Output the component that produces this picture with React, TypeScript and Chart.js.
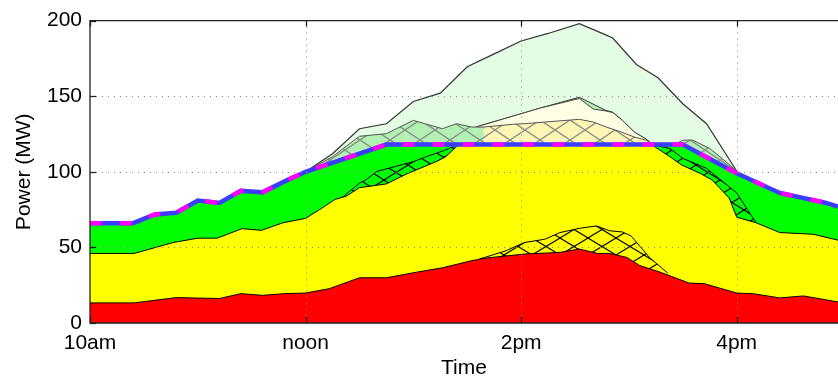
import React, { useEffect, useRef } from 'react';
import { Chart, registerables } from 'chart.js';
Chart.register(...registerables);

// ---- axis ticks ----
const xTickValues = [10, 12, 14, 16];
const xTickLabels = ['10am', 'noon', '2pm', '4pm'];
const yTickValues = [0, 50, 100, 150, 200];

// ---- series (time in hours, value in MW) ----
// uncurtailed total (top, pale green)
const topTime = [12.0, 12.25, 12.5, 12.75, 13.0, 13.25, 13.5, 13.75, 14.0, 14.25, 14.54, 14.78, 14.85, 15.07, 15.27, 15.5, 15.72, 16.0];
const topValue = [100, 112, 128.5, 131.8, 146.5, 152, 169.5, 178, 186.5, 191.5, 198, 190.7, 188.5, 171, 162.2, 145, 131.8, 100.5];
// light-green sliver upper edge
const sliverTime = [13.58, 14.0, 14.17, 14.54, 14.78, 14.85, 14.94, 15.05, 15.16, 15.22];
const sliverValue = [129.6, 138.4, 142, 149.3, 140.8, 139.4, 134, 126.3, 121.6, 118];
// pale-yellow curtailed area upper edge
const paleYellowTime = [13.58, 14.0, 14.17, 14.54, 14.67, 14.78, 14.85, 14.94, 15.05, 15.16, 15.22];
const paleYellowValue = [129.6, 138.4, 142, 148.5, 141.5, 140.3, 139.2, 134, 126.3, 121.6, 118];
// hatched light-green curtailed area (left and right)
const hatchGreenLTime = [12.0, 12.25, 12.5, 12.75, 13.0, 13.27, 13.4, 13.54, 13.65, 13.72];
const hatchGreenLValue = [100, 110, 123.5, 125.2, 134, 128.5, 131.8, 129.6, 129.6, 118];
const hatchGreenRTime = [15.42, 15.5, 15.59, 15.75, 15.9, 16.0];
const hatchGreenRValue = [118, 120.9, 121, 115.4, 106.7, 100.5];
// hatched pale-yellow curtailed area
const hatchYellowTime = [13.65, 13.92, 14.03, 14.22, 14.54, 14.67, 14.79, 14.93, 15.05, 15.16, 15.22];
const hatchYellowValue = [129.6, 131.4, 131.8, 132.9, 134.7, 132.9, 129.6, 126.3, 123, 120.9, 118];
// total delivered (capped) – blue/magenta line, top of green
const capTime = [10.0, 10.4, 10.6, 10.8, 11.0, 11.2, 11.4, 11.6, 11.8, 12.0, 12.75, 15.5, 16.0, 16.4, 16.83, 16.94];
const capValue = [66, 66, 71.8, 72.9, 81, 79.4, 87.5, 86.4, 93.5, 100, 118, 118, 99, 86, 79.4, 77];
// yellow potential (hatched over green)
const yellowPotLTime = [12.34, 12.5, 12.56, 12.66, 12.77, 13.0, 13.12, 13.27, 13.37, 13.42];
const yellowPotLValue = [83, 92.5, 94.7, 100.2, 102.3, 106.7, 110, 113.7, 116.5, 118];
const yellowPotRTime = [15.21, 15.38, 15.5, 15.72, 15.87, 16.0, 16.1, 16.18];
const yellowPotRValue = [118, 115.4, 108.9, 102.3, 93.6, 86, 75, 66.3];
// yellow top
const yellowTime = [10.0, 10.41, 10.77, 11.0, 11.18, 11.41, 11.59, 11.79, 12.0, 12.13, 12.27, 12.38, 12.5, 12.75, 12.95, 13.1, 13.22, 13.3, 13.42, 15.21, 15.38, 15.49, 15.66, 15.77, 15.93, 16.0, 16.18, 16.4, 16.71, 16.94];
const yellowValue = [46, 46, 53.2, 56.1, 56.1, 62.4, 61.3, 66.3, 69.2, 75, 81.6, 84, 89.5, 92, 99, 103.4, 107, 110, 118, 118, 110, 104.5, 99, 94.7, 82.7, 70, 66.3, 59.8, 58.7, 54.8];
// red potential (hatched over yellow)
const redPotTime = [13.61, 13.86, 14.03, 14.22, 14.36, 14.54, 14.7, 14.82, 14.94, 15.02, 15.19, 15.36];
const redPotValue = [42.2, 47.8, 53.2, 55.4, 59.8, 62.6, 64.2, 61, 60.2, 57.6, 43.4, 33];
// red top
const redTime = [10.0, 10.41, 10.8, 11.0, 11.2, 11.4, 11.6, 11.8, 12.0, 12.22, 12.5, 12.75, 13.03, 13.27, 13.54, 13.68, 14.03, 14.36, 14.54, 14.71, 14.82, 14.98, 15.1, 15.29, 15.56, 15.7, 16.0, 16.15, 16.4, 16.62, 16.94];
const redValue = [13.3, 13.3, 16.8, 16.5, 16.2, 19.4, 18.3, 19.4, 19.8, 22.7, 29.9, 29.9, 33.6, 36.5, 41.2, 43, 45.6, 46.7, 48.9, 46, 46, 43.4, 38, 33.6, 26.4, 26, 19.8, 19.4, 16.6, 17.9, 13.9];

const pts = (t: number[], v: number[]) => t.map((x, i) => ({ x, y: v[i] }));

function hatch(bg: string, line: string, w: number, h: number, lw: number) {
  const c = document.createElement('canvas');
  c.width = w;
  c.height = h;
  const g = c.getContext('2d')!;
  g.fillStyle = bg;
  g.fillRect(0, 0, w, h);
  g.strokeStyle = line;
  g.lineWidth = lw;
  for (const dx of [-w, 0, w]) {
    g.beginPath();
    g.moveTo(dx, 0);
    g.lineTo(dx + w, h);
    g.moveTo(dx + w, 0);
    g.lineTo(dx, h);
    g.stroke();
  }
  const ctx = document.createElement('canvas').getContext('2d')!;
  return ctx.createPattern(c, 'repeat')!;
}

const FONT = { family: '"Liberation Sans", Arial, Helvetica, sans-serif', size: 21 };

const axesPlugin = {
  id: 'matlabAxes',
  afterDatasetsDraw(chart: any) {
    const { ctx, chartArea: a, scales } = chart;
    const xs = scales.x;
    const ys = scales.y;
    ctx.save();
    ctx.lineWidth = 1;
    ctx.strokeStyle = '#888';
    ctx.setLineDash([1, 5]);
    yTickValues.filter((v) => v > 0 && v < 200).forEach((v) => {
      const y = Math.round(ys.getPixelForValue(v)) + 0.5;
      ctx.beginPath();
      ctx.moveTo(a.left, y);
      ctx.lineTo(a.right, y);
      ctx.stroke();
    });
    xTickValues.filter((v) => v > 10).forEach((v) => {
      const x = Math.round(xs.getPixelForValue(v)) + 0.5;
      ctx.beginPath();
      ctx.moveTo(x, a.top);
      ctx.lineTo(x, a.bottom);
      ctx.stroke();
    });
    ctx.setLineDash([]);
    ctx.strokeStyle = '#222';
    ctx.lineWidth = 1.3;
    ctx.beginPath();
    ctx.moveTo(a.right, a.top);
    ctx.lineTo(a.left, a.top);
    ctx.lineTo(a.left, a.bottom);
    ctx.lineTo(a.right, a.bottom);
    ctx.stroke();
    const tl = 6;
    xTickValues.forEach((v) => {
      const x = Math.round(xs.getPixelForValue(v)) + 0.5;
      ctx.beginPath();
      ctx.moveTo(x, a.bottom);
      ctx.lineTo(x, a.bottom - tl);
      ctx.moveTo(x, a.top);
      ctx.lineTo(x, a.top + tl);
      ctx.stroke();
    });
    yTickValues.forEach((v) => {
      const y = Math.round(ys.getPixelForValue(v)) + 0.5;
      ctx.beginPath();
      ctx.moveTo(a.left, y);
      ctx.lineTo(a.left + tl, y);
      ctx.stroke();
    });
    ctx.restore();
  },
};

export default function App() {
  const ref = useRef<HTMLCanvasElement>(null);
  useEffect(() => {
    document.body.style.margin = '0';
    const GREEN = '#00ff00';
    const YELLOW = '#ffff00';
    const RED = '#ff0000';
    const LIGHTGREEN = '#b2f1b2';
    const PALEGREEN = '#e4fbe4';
    const PALEYELLOW = '#fffde2';
    const HATCHYELLOW = '#fdf6b4';
    const layers: any[] = [
      { data: pts(topTime, topValue), backgroundColor: PALEGREEN, borderColor: '#333', borderWidth: 1.2 },
      { data: pts(sliverTime, sliverValue), backgroundColor: LIGHTGREEN, borderColor: '#333', borderWidth: 1 },
      { data: pts(paleYellowTime, paleYellowValue), backgroundColor: PALEYELLOW, borderColor: '#444', borderWidth: 1 },
      { data: pts(hatchGreenLTime, hatchGreenLValue), backgroundColor: hatch(LIGHTGREEN, '#888', 30, 20, 1.3), borderColor: '#555', borderWidth: 1 },
      { data: pts(hatchGreenRTime, hatchGreenRValue), backgroundColor: hatch(LIGHTGREEN, '#888', 30, 20, 1.3), borderColor: '#555', borderWidth: 1 },
      { data: pts(hatchYellowTime, hatchYellowValue), backgroundColor: hatch(HATCHYELLOW, '#888', 30, 20, 1.3), borderColor: '#555', borderWidth: 1 },
      { data: pts(capTime, capValue), backgroundColor: GREEN, borderColor: GREEN, borderWidth: 0 },
      { data: pts(yellowPotLTime, yellowPotLValue), backgroundColor: hatch(GREEN, '#000', 24, 15, 1.1), borderColor: '#000', borderWidth: 1 },
      { data: pts(yellowPotRTime, yellowPotRValue), backgroundColor: hatch(GREEN, '#000', 24, 15, 1.1), borderColor: '#000', borderWidth: 1 },
      { data: pts(yellowTime, yellowValue), backgroundColor: YELLOW, borderColor: '#000', borderWidth: 1 },
      { data: pts(redPotTime, redPotValue), backgroundColor: hatch(YELLOW, '#000', 28, 17, 1.1), borderColor: '#000', borderWidth: 1 },
      { data: pts(redTime, redValue), backgroundColor: RED, borderColor: '#000', borderWidth: 1 },
      { data: pts(capTime, capValue), fill: false, borderColor: '#3c3cff', borderWidth: 4.5 },
      { data: pts(capTime, capValue), fill: false, borderColor: '#ff00ff', borderWidth: 4.5, borderDash: [12, 18] },
    ];
    const n = layers.length;
    const datasets = layers.map((d, i) => ({
      fill: 'origin',
      pointRadius: 0,
      tension: 0,
      order: n - i,
      ...d,
    }));
    const chart = new Chart(ref.current!, {
      type: 'line',
      data: { datasets },
      plugins: [axesPlugin],
      options: {
        animation: false,
        responsive: false,
        layout: { padding: { top: 17, right: 0, left: 0, bottom: 0 } },
        plugins: { legend: { display: false }, tooltip: { enabled: false } },
        scales: {
          x: {
            type: 'linear',
            min: 10,
            max: 16.94,
            afterBuildTicks: (s: any) => {
              s.ticks = xTickValues.map((value) => ({ value }));
            },
            ticks: {
              autoSkip: false,
              maxRotation: 0,
              padding: 8,
              color: '#000',
              font: FONT,
              callback: (v: any) => xTickLabels[xTickValues.indexOf(Number(v))],
            },
            grid: { display: false, drawTicks: false },
            border: { display: false },
            title: { display: true, text: 'Time', color: '#000', font: FONT, padding: { top: 0, bottom: 0 } },
            afterFit: (s: any) => {
              s.height = 58;
            },
          },
          y: {
            min: 0,
            max: 200,
            afterBuildTicks: (s: any) => {
              s.ticks = yTickValues.map((value) => ({ value }));
            },
            ticks: { padding: 8, color: '#000', font: FONT },
            grid: { display: false, drawTicks: false },
            border: { display: false },
            title: { display: true, text: 'Power (MW)', color: '#000', font: FONT, padding: { top: 12, bottom: 0 } },
            afterFit: (s: any) => {
              s.width = 90;
            },
          },
        },
      },
    });
    return () => chart.destroy();
  }, []);
  return <canvas ref={ref} width={838} height={381} style={{ display: 'block' }} />;
}
